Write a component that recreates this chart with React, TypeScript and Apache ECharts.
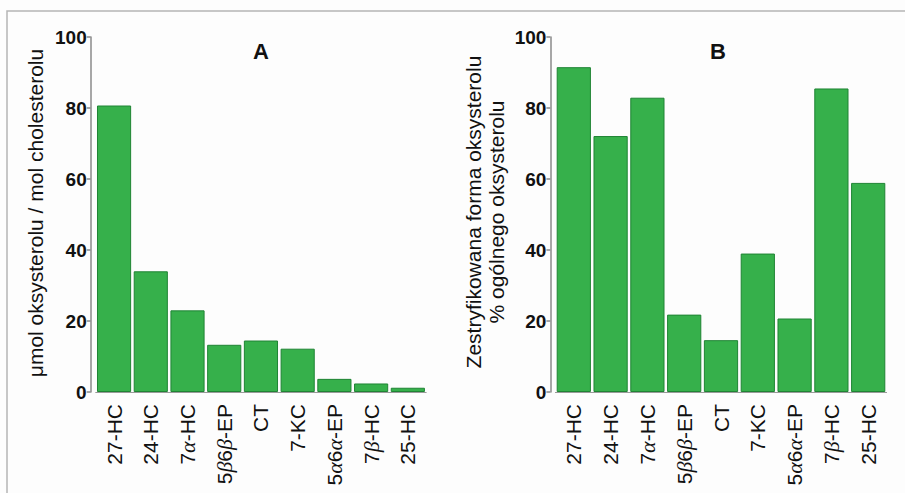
import React, { useEffect, useRef } from "react";
import * as echarts from "echarts";

const categories = ["27-HC", "24-HC", "7{i|α}-HC", "5{i|β}6{i|β}-EP", "CT", "7-KC", "5{i|α}6{i|α}-EP", "7{i|β}-HC", "25-HC"];
const valuesA = [80.7, 34, 23, 13.3, 14.5, 12.2, 3.7, 2.4, 1.2];
const valuesB = [91.5, 72.1, 82.9, 21.8, 14.6, 39, 20.7, 85.5, 58.9];
const yTicks = [0, 20, 40, 60, 80, 100];
const titleA = "A";
const titleB = "B";
const yNameA = "μmol oksysterolu / mol cholesterolu";
const yNameB = ["Zestryfikowana forma oksysterolu", "% ogólnego oksysterolu"];

const FONT = "'Liberation Sans', Arial, sans-serif";

export default function App() {
  const ref = useRef<HTMLDivElement>(null);
  useEffect(() => {
    const chart = echarts.init(ref.current!, null, { renderer: "svg" });
    const xAxisCommon = (gridIndex: number) => ({
      type: "category" as const,
      gridIndex,
      data: categories,
      axisLine: { show: true, lineStyle: { color: "#9a9a9a", width: 1 } },
      axisTick: { show: false },
      axisLabel: {
        rotate: 90,
        margin: 12,
        color: "#111",
        fontFamily: FONT,
        fontSize: 21,
        interval: 0,
        rich: {
          i: { fontStyle: "italic", fontFamily: "'Liberation Serif', serif", fontSize: 22, color: "#111" },
        },
      },
    });
    const yAxisCommon = (gridIndex: number) => ({
      type: "value" as const,
      gridIndex,
      min: 0,
      max: 100,
      interval: 20,
      offset: 5,
      splitLine: { show: false },
      axisLine: { show: true, lineStyle: { color: "#8a8a8a", width: 1.5 } },
      axisTick: { show: true, length: 4, lineStyle: { color: "#8a8a8a", width: 1.5 } },
      axisLabel: {
        color: "#111",
        fontFamily: FONT,
        fontSize: 19,
        fontWeight: "bold" as const,
        margin: 4,
        formatter: (v: number) => (yTicks.includes(v) ? String(v) : ""),
      },
    });
    const barStyle = { color: "#36b04b", borderColor: "#1f8434", borderWidth: 1 };
    chart.setOption({
      animation: false,
      backgroundColor: "#fdfdfd",
      grid: [
        { left: 95.7, top: 37, width: 330.5, height: 355 },
        { left: 555.4, top: 37, width: 331.2, height: 355 },
      ],
      xAxis: [xAxisCommon(0), xAxisCommon(1)],
      yAxis: [yAxisCommon(0), yAxisCommon(1)],
      series: [
        { type: "bar", xAxisIndex: 0, yAxisIndex: 0, data: valuesA, barCategoryGap: "7%", itemStyle: barStyle },
        { type: "bar", xAxisIndex: 1, yAxisIndex: 1, data: valuesB, barCategoryGap: "7%", itemStyle: barStyle },
      ],
      graphic: [
        { type: "rect", shape: { x: 7, y: 11, width: 920, height: 500 }, style: { fill: "none", stroke: "#b5b5b5", lineWidth: 1.5 }, silent: true },
        { type: "text", x: 261, y: 51, style: { text: titleA, font: `bold 22px ${FONT}`, fill: "#111", align: "center", verticalAlign: "middle" } },
        { type: "text", x: 718, y: 51, style: { text: titleB, font: `bold 22px ${FONT}`, fill: "#111", align: "center", verticalAlign: "middle" } },
        { type: "text", x: 35, y: 213, rotation: Math.PI / 2, style: { text: yNameA, font: `21px ${FONT}`, fill: "#111", align: "center", verticalAlign: "middle" } },
        { type: "text", x: 473, y: 212, rotation: Math.PI / 2, style: { text: yNameB[0], font: `21px ${FONT}`, fill: "#111", align: "center", verticalAlign: "middle" } },
        { type: "text", x: 496, y: 212, rotation: Math.PI / 2, style: { text: yNameB[1], font: `21px ${FONT}`, fill: "#111", align: "center", verticalAlign: "middle" } },
      ],
    });
    return () => chart.dispose();
  }, []);
  return <div ref={ref} style={{ position: "fixed", left: 0, top: 0, width: 905, height: 493 }} />;
}
